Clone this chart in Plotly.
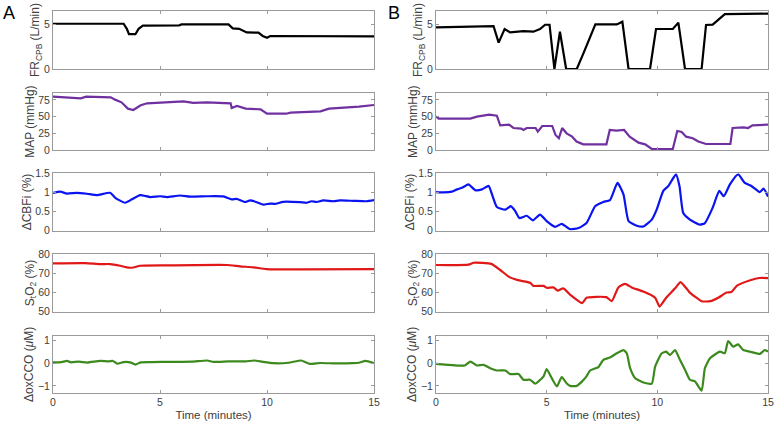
import plotly.graph_objects as go
from plotly.subplots import make_subplots

# ---------------- data ----------------
# Panel A
a_fr_t = [0, 3.3, 3.45, 3.55, 3.85, 4.0, 4.2, 5.9, 6.0, 8.2, 8.4, 8.7, 9.05, 9.6, 9.8, 10.0, 10.15, 15]
a_fr_v = [5.07, 5.07, 4.5, 3.9, 3.9, 4.5, 4.85, 4.9, 5.0, 5.0, 4.55, 4.5, 4.1, 4.07, 3.7, 3.5, 3.7, 3.65]

a_map_t = [0, 1.1, 1.3, 1.55, 2.7, 2.9, 3.2, 3.5, 3.75, 4.1, 4.4, 6.1, 6.55, 7.2, 8.3, 8.35, 8.6, 9.0, 9.7, 10.0, 10.9, 11.1, 12.5, 12.9, 13.6, 14.3, 15]
a_map_v = [80, 78.4, 77.5, 80, 79, 75.5, 71.5, 62, 60, 67, 70, 73, 70.6, 71.5, 70, 63, 66, 62, 61, 54.4, 54.4, 56, 58, 62, 63, 65, 67.5]

a_cbf_t = [0, 0.34, 0.65, 1.12, 1.59, 2.05, 2.67, 2.91, 3.37, 3.69, 4.07, 4.54, 5.01, 5.32, 5.94, 6.41, 7.19, 7.96, 8.35, 8.58, 8.97, 9.21, 9.52, 9.83, 10.14, 10.37, 10.76, 11.54, 11.85, 12.08, 12.32, 12.63, 13.09, 13.41, 14.03, 14.65, 15]
a_cbf_v = [0.99, 1.02, 0.97, 0.99, 0.965, 0.93, 0.99, 0.86, 0.73, 0.82, 0.93, 0.88, 0.9, 0.88, 0.92, 0.89, 0.9, 0.895, 0.82, 0.83, 0.75, 0.79, 0.745, 0.68, 0.71, 0.7, 0.755, 0.745, 0.73, 0.77, 0.75, 0.79, 0.77, 0.79, 0.78, 0.77, 0.8]

a_sto2_t = [0, 1.5, 2.21, 2.67, 3.14, 3.53, 3.76, 4.07, 5.32, 8.12, 8.74, 9.36, 9.98, 11.54, 15]
a_sto2_v = [75.3, 75.4, 74.9, 74.9, 74.0, 73.0, 73.1, 74.0, 74.2, 74.4, 73.7, 73.2, 72.3, 72.1, 72.3]

a_cco_t = [0, 0.4, 0.65, 0.85, 1.2, 1.6, 2.2, 2.6, 2.8, 3.0, 3.3, 3.6, 3.85, 4.1, 4.6, 5.5, 6.5, 7.2, 7.5, 8.2, 9.0, 9.4, 9.8, 10.3, 11.0, 11.6, 11.8, 12.0, 12.5, 13.2, 14.0, 14.3, 14.6, 15]
a_cco_v = [0.04, 0.05, 0.1, 0.04, 0.07, 0.03, 0.1, 0.08, 0.1, -0.02, 0.05, 0.04, -0.06, 0.04, 0.05, 0.06, 0.07, 0.12, 0.06, 0.08, 0.08, 0.12, 0.06, 0.0, 0.02, 0.12, 0.04, -0.03, 0.01, -0.01, 0.0, 0.02, 0.1, 0.0]

# Panel B
b_fr_t = [0, 2.6, 2.83, 3.1, 3.35, 3.8, 3.95, 4.4, 4.7, 4.93, 5.13, 5.35, 5.6, 5.88, 6.36, 6.66, 6.96, 7.2, 8.17, 8.42, 8.7, 9.67, 9.94, 10.7, 10.95, 11.25, 12.0, 12.2, 12.5, 12.75, 13.05, 15]
b_fr_v = [4.66, 4.8, 2.95, 4.48, 4.1, 4.18, 4.25, 4.18, 4.48, 4.96, 4.96, 0, 4.18, 0, 0, 1.75, 3.6, 5.0, 5.0, 5.3, 0, 0, 4.48, 4.48, 5.2, 0, 0, 4.93, 4.98, 5.5, 6.15, 6.2]

b_map_t = [0, 0.12, 1.55, 1.85, 2.4, 2.75, 2.9, 3.3, 3.5, 3.85, 3.95, 4.1, 4.5, 4.6, 4.8, 5.25, 5.4, 5.55, 5.7, 5.9, 6.15, 6.35, 6.65, 7.7, 7.85, 8.15, 8.5, 8.75, 9.15, 9.45, 9.75, 10.7, 10.9, 11.1, 11.3, 11.6, 11.85, 12.2, 13.3, 13.4, 13.9, 14.1, 14.3, 15]
b_map_v = [50.5, 47, 47, 50, 53, 51.5, 37, 38, 33, 32, 30, 33, 33, 27.5, 36, 36, 22.5, 17.6, 33, 25, 20, 12.7, 8.5, 8.5, 30, 29, 30, 20, 11, 8.5, 1.5, 1.5, 28.5, 27, 20, 17.6, 12.7, 9, 9, 33, 34, 33, 37, 38]

b_cbf_t = [0, 0.35, 0.72, 0.95, 1.17, 1.47, 1.77, 2.08, 2.38, 2.53, 2.75, 3.13, 3.38, 3.58, 3.77, 4.1, 4.38, 4.7, 5.0, 5.38, 5.68, 6.06, 6.44, 6.8, 7.19, 7.56, 7.86, 8.2, 8.47, 8.7, 9.07, 9.37, 9.75, 9.97, 10.27, 10.5, 10.84, 11.0, 11.17, 11.47, 11.92, 12.15, 12.5, 12.8, 13.0, 13.28, 13.65, 13.95, 14.25, 14.63, 14.8, 15]
b_cbf_v = [1.01, 1.0, 1.02, 1.08, 1.12, 1.21, 1.06, 1.08, 1.17, 0.95, 0.62, 0.55, 0.64, 0.51, 0.33, 0.39, 0.27, 0.42, 0.25, 0.1, 0.18, 0.04, 0.07, 0.2, 0.64, 0.75, 0.8, 1.25, 0.95, 0.25, 0.13, 0.11, 0.29, 0.55, 1.04, 1.17, 1.47, 1.17, 0.46, 0.29, 0.16, 0.2, 0.6, 1.04, 0.9, 1.21, 1.47, 1.25, 1.17, 1.01, 1.1, 0.89]

b_sto2_t = [0, 1.47, 1.7, 2.5, 2.9, 3.3, 3.7, 4.25, 4.4, 4.86, 5.0, 5.3, 5.5, 5.75, 6.1, 6.6, 6.8, 7.26, 7.7, 7.94, 8.24, 8.54, 8.84, 9.37, 9.9, 10.1, 10.4, 10.8, 11.05, 11.47, 12.0, 12.4, 12.75, 13.13, 13.35, 13.6, 14.2, 14.6, 15]
b_sto2_v = [74.4, 74.6, 75.6, 75, 71.8, 68.2, 66.5, 65.1, 63.5, 63.5, 62.5, 62.7, 61, 62.2, 58.5, 54.5, 57.3, 57.8, 57.6, 55.5, 62.7, 64.5, 62.7, 60.5, 57.3, 52.7, 57.3, 62.2, 65.5, 60, 55.5, 55.5, 57.3, 60, 60.3, 63.6, 66.4, 67.6, 67.6]

b_cco_t = [0, 1.3, 1.55, 1.85, 2.15, 2.45, 2.75, 3.13, 3.35, 3.73, 3.95, 4.25, 4.48, 4.63, 4.86, 5.0, 5.23, 5.46, 5.68, 5.9, 6.06, 6.36, 6.6, 6.8, 6.96, 7.34, 7.56, 7.86, 8.17, 8.47, 8.62, 8.77, 9.0, 9.37, 9.75, 9.9, 10.2, 10.4, 10.57, 10.8, 11.02, 11.25, 11.47, 11.7, 12.0, 12.15, 12.38, 12.83, 13.05, 13.2, 13.43, 13.65, 13.88, 14.18, 14.63, 14.85, 15]
b_cco_v = [-0.03, -0.1, 0.07, -0.1, -0.07, -0.22, -0.32, -0.32, -0.48, -0.48, -0.73, -0.73, -0.9, -0.8, -0.58, -0.26, -0.66, -1.02, -0.61, -0.88, -1.0, -1.0, -0.8, -0.58, -0.32, -0.17, 0.15, 0.25, 0.44, 0.58, 0.44, -0.22, -0.66, -0.85, -0.9, -0.15, 0.44, 0.51, 0.36, 0.58, 0.15, -0.29, -0.73, -0.8, -1.21, -0.22, 0.22, 0.51, 0.44, 0.98, 0.73, 0.83, 0.58, 0.51, 0.41, 0.58, 0.51]

row_titles = ["FR<sub>CPB</sub> (L/min)", "MAP (mmHg)", "ΔCBFi (%)",
              "S<sub>t</sub>O<sub>2</sub> (%)", "ΔoxCCO (<i>μ</i>M)"]
row_ranges = [[0, 6.5], [0, 85], [0, 1.5], [50, 80], [-1.3, 1.2]]
row_ticks = [[0, 5], [0, 25, 50, 75], [0, 0.5, 1, 1.5], [50, 60, 70, 80], [-1, 0, 1]]
row_colors = ["#000000", "#7030A0", "#0A14F0", "#E01818", "#3C8A1E"]
row_shapes = ["linear", "linear", "spline", "spline", "spline"]
x_ticks = [0, 5, 10, 15]
x_title = "Time (minutes)"

series_a = [(a_fr_t, a_fr_v), (a_map_t, a_map_v), (a_cbf_t, a_cbf_v), (a_sto2_t, a_sto2_v), (a_cco_t, a_cco_v)]
series_b = [(b_fr_t, b_fr_v), (b_map_t, b_map_v), (b_cbf_t, b_cbf_v), (b_sto2_t, b_sto2_v), (b_cco_t, b_cco_v)]

# ---------------- figure ----------------
W, H = 777, 429
fig = make_subplots(rows=5, cols=2)

font_fam = "Liberation Sans, Arial, sans-serif"
axis_col = "#9a9a9a"
tick_col = "#404040"

x_dom = [[53 / W, 374 / W], [436 / W, 768 / W]]
y_px = [(11, 69), (93.3, 150), (173.3, 230.7), (254.3, 311.7), (336, 392.7)]

for r in range(5):
    for c, ser in enumerate([series_a, series_b]):
        t, v = ser[r]
        line = dict(color=row_colors[r], width=2.2, shape=row_shapes[r])
        if row_shapes[r] == "spline":
            line["smoothing"] = 0.5
        fig.add_trace(go.Scatter(x=t, y=v, mode="lines", line=line,
                                 showlegend=False, hoverinfo="skip"),
                      row=r + 1, col=c + 1)
        top, bot = y_px[r]
        fig.update_xaxes(row=r + 1, col=c + 1,
                         domain=x_dom[c], range=[0, 15], tickvals=x_ticks,
                         showticklabels=(r == 4), ticks="inside", ticklen=3,
                         tickcolor=axis_col, mirror="ticks", showline=True,
                         linecolor=axis_col, linewidth=1, showgrid=False,
                         zeroline=False, automargin=False,
                         ticklabeloverflow="allow",
                         tickfont=dict(size=10.5, color=tick_col, family=font_fam))
        if r == 4:
            fig.update_xaxes(row=r + 1, col=c + 1,
                             title=dict(text=x_title,
                                        font=dict(size=11.5, color=tick_col, family=font_fam),
                                        standoff=3))
        fig.update_yaxes(row=r + 1, col=c + 1,
                         domain=[1 - bot / H, 1 - top / H],
                         range=row_ranges[r], tickvals=row_ticks[r],
                         ticks="inside", ticklen=3, tickcolor=axis_col,
                         mirror="ticks", showline=True, linecolor=axis_col,
                         linewidth=1, showgrid=False, zeroline=False,
                         automargin=False, ticklabeloverflow="allow",
                         tickfont=dict(size=10.5, color=tick_col, family=font_fam),
                         title=dict(text=row_titles[r],
                                    font=dict(size=12, color=tick_col, family=font_fam),
                                    standoff=1))

fig.add_annotation(text="A", x=1 / W, y=1 - 1 / H, xref="paper", yref="paper",
                   xanchor="left", yanchor="top", showarrow=False,
                   font=dict(size=18, color="#000000", family=font_fam))
fig.add_annotation(text="B", x=386 / W, y=1 - 1 / H, xref="paper", yref="paper",
                   xanchor="left", yanchor="top", showarrow=False,
                   font=dict(size=18, color="#000000", family=font_fam))

fig.update_layout(template="none", width=W, height=H,
                  margin=dict(l=0, r=0, t=0, b=0, autoexpand=False),
                  paper_bgcolor="white", plot_bgcolor="white",
                  font=dict(family=font_fam, size=10.5, color=tick_col))

fig.write_html("out.html", config={"displayModeBar": False, "staticPlot": True},
               post_script="document.body.style.margin='0';document.body.style.overflow='hidden';")
